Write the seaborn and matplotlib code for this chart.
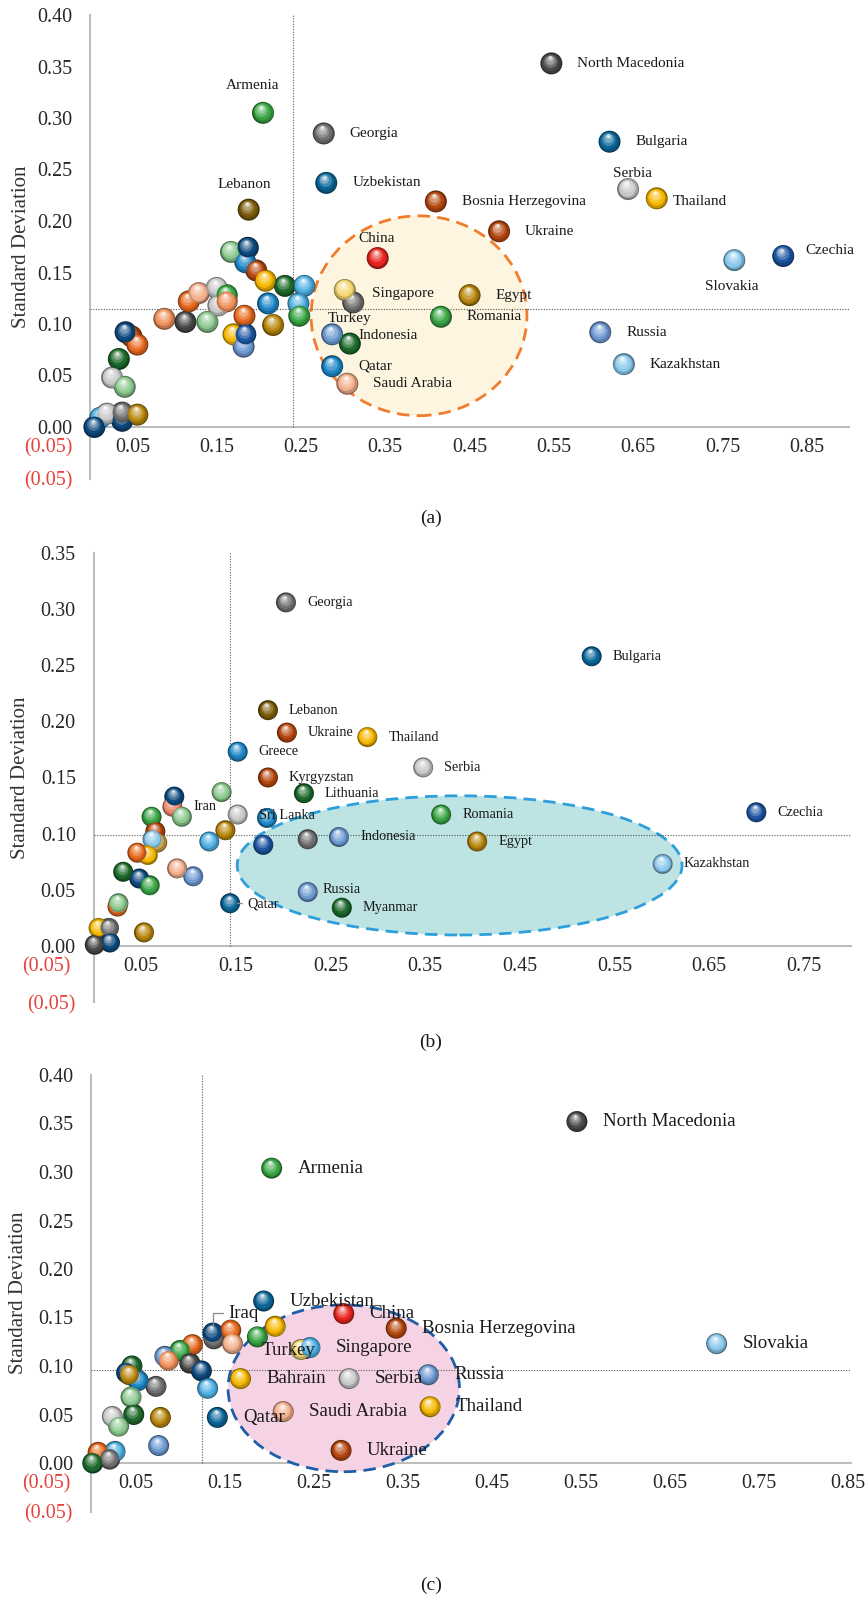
import numpy as np
import pandas as pd
import seaborn as sns
import matplotlib
matplotlib.use("Agg")
import matplotlib.pyplot as plt
from matplotlib.patches import Ellipse
from matplotlib.transforms import ScaledTranslation
from matplotlib.colors import to_rgb

# ---------------------------------------------------------------- data
# (a)  named countries first, unnamed markets after them
a_named = ["Armenia", "Georgia", "Uzbekistan", "Lebanon", "China", "", "Singapore", "Turkey",
           "Indonesia", "Qatar", "Saudi Arabia", "Romania", "Bosnia Herzegovina",
           "North Macedonia", "Bulgaria", "Serbia", "Thailand", "Ukraine", "Slovakia",
           "Czechia", "Egypt", "Russia", "Kazakhstan"]
a_avg = [0.205, 0.277, 0.280, 0.188, 0.341, 0.312, 0.302, 0.287, 0.308, 0.287, 0.305, 0.416, 0.410,
         0.547, 0.616, 0.638, 0.672, 0.485, 0.764, 0.822, 0.450, 0.605, 0.633,
         0.012, 0.020, 0.038, 0.038, 0.056, 0.005, 0.026, 0.041, 0.034, 0.049, 0.056, 0.042,
         0.088, 0.113, 0.117, 0.129, 0.139, 0.152, 0.150, 0.162, 0.162, 0.167, 0.184, 0.187,
         0.197, 0.208, 0.231, 0.254, 0.211, 0.247, 0.248, 0.183, 0.217, 0.170, 0.182, 0.184]
a_sd = [0.305, 0.285, 0.237, 0.211, 0.164, 0.121, 0.133, 0.090, 0.081, 0.059, 0.042, 0.107, 0.219,
        0.353, 0.277, 0.231, 0.222, 0.190, 0.162, 0.166, 0.128, 0.092, 0.061,
        0.009, 0.013, 0.006, 0.014, 0.012, 0.000, 0.048, 0.039, 0.066, 0.088, 0.080, 0.092,
        0.105, 0.102, 0.122, 0.130, 0.102, 0.118, 0.135, 0.128, 0.122, 0.170, 0.160, 0.174,
        0.152, 0.142, 0.137, 0.137, 0.120, 0.120, 0.108, 0.108, 0.099, 0.090, 0.078, 0.090]
a_tone = ["green", "gray", "teal", "olive", "red", "gray", "paleyellow", "steel",
          "darkgreen", "blue", "peach", "green", "rust",
          "darkgray", "teal", "silver", "yellow", "rust", "paleblue", "royal", "gold", "steel",
          "paleblue",
          "lightblue", "silver", "navy", "gray", "gold", "navy", "silver", "lightgreen",
          "darkgreen", "rust", "orange", "navy",
          "apricot", "darkgray", "orange", "peach", "lightgreen", "silver", "silver", "green",
          "apricot", "lightgreen", "blue", "navy",
          "rust", "yellow", "darkgreen", "lightblue", "blue", "lightblue", "green", "orange",
          "gold", "yellow", "steel", "royal"]

# (b)
b_named = ["Georgia", "Bulgaria", "Lebanon", "Ukraine", "Thailand", "Greece", "Serbia",
           "Kyrgyzstan", "Lithuania", "Iran", "", "Sri Lanka", "Romania", "Czechia",
           "Indonesia", "Egypt", "Kazakhstan", "Russia", "Qatar", "Myanmar"]
b_avg = [0.203, 0.526, 0.184, 0.204, 0.289, 0.152, 0.348, 0.184, 0.222, 0.083, 0.085, 0.183,
         0.367, 0.700, 0.259, 0.405, 0.601, 0.226, 0.144, 0.262,
         0.135, 0.093, 0.061, 0.152, 0.139, 0.122, 0.179, 0.226, 0.065, 0.067, 0.062, 0.057,
         0.046, 0.088, 0.105, 0.031, 0.048, 0.059, 0.025, 0.026, 0.053, 0.005, 0.016, 0.017,
         0.001]
b_sd = [0.306, 0.258, 0.210, 0.190, 0.186, 0.173, 0.159, 0.150, 0.136, 0.124, 0.133, 0.114,
        0.117, 0.119, 0.097, 0.093, 0.073, 0.048, 0.038, 0.034,
        0.137, 0.115, 0.115, 0.117, 0.103, 0.093, 0.090, 0.095, 0.102, 0.092, 0.095, 0.081,
        0.083, 0.069, 0.062, 0.066, 0.060, 0.054, 0.035, 0.038, 0.012, 0.016, 0.016, 0.003,
        0.001]
b_tone = ["gray", "teal", "olive", "rust", "yellow", "blue", "silver", "rust", "darkgreen",
          "salmon", "navy", "blue", "green", "royal", "steel", "gold", "paleblue", "steel",
          "teal", "darkgreen",
          "lightgreen", "lightgreen", "green", "silver", "gold", "lightblue", "royal", "gray",
          "rust", "tan", "paleblue", "yellow", "orange", "peach", "steel", "darkgreen", "navy",
          "green", "orange", "lightgreen", "gold", "yellow", "gray", "navy", "darkgray"]

# (c)
c_named = ["North Macedonia", "Armenia", "Uzbekistan", "China", "Bosnia Herzegovina", "",
           "Iraq", "Slovakia", "Turkey", "Singapore", "Bahrain", "Serbia", "Russia",
           "Thailand", "Saudi Arabia", "Qatar", "Ukraine"]
c_avg = [0.546, 0.203, 0.194, 0.284, 0.343, 0.138, 0.137, 0.703, 0.236, 0.246, 0.168, 0.290,
         0.379, 0.381, 0.216, 0.142, 0.281,
         0.157, 0.159, 0.187, 0.207, 0.114, 0.100, 0.083, 0.087, 0.111, 0.124, 0.131, 0.073,
         0.046, 0.040, 0.053, 0.043, 0.045, 0.024, 0.048, 0.031, 0.078, 0.076, 0.027, 0.008,
         0.021, 0.002]
c_sd = [0.352, 0.304, 0.167, 0.154, 0.139, 0.128, 0.134, 0.123, 0.117, 0.119, 0.087, 0.087,
        0.091, 0.058, 0.053, 0.047, 0.013,
        0.137, 0.123, 0.130, 0.141, 0.122, 0.116, 0.110, 0.106, 0.103, 0.095, 0.077, 0.079,
        0.100, 0.093, 0.085, 0.091, 0.068, 0.048, 0.050, 0.038, 0.047, 0.018, 0.012, 0.011,
        0.004, 0.000]
c_tone = ["darkgray", "green", "teal", "red", "rust", "gray", "navy", "paleblue", "paleyellow",
          "lightblue", "yellow", "silver", "steel", "yellow", "peach", "teal", "rust",
          "orange", "peach", "green", "yellow", "orange", "green", "steel", "apricot",
          "darkgray", "navy", "lightblue", "gray", "darkgreen", "navy", "blue", "gold",
          "lightgreen", "silver", "darkgreen", "lightgreen", "gold", "steel", "lightblue",
          "orange", "gray", "darkgreen"]

# reference lines (x threshold, y threshold) per panel
a_cut = (0.24, 0.115)
b_cut = (0.144, 0.099)
c_cut = (0.125, 0.096)

# ---------------------------------------------------------------- styling
TONES = {
    "green": "#3AA645", "darkgreen": "#1D6A2C", "lightgreen": "#8CC98F",
    "gray": "#707070", "darkgray": "#4A4A4A", "silver": "#C8C8C8",
    "navy": "#0E4A7E", "teal": "#0B6699", "blue": "#1C86C6", "royal": "#1D56A3",
    "lightblue": "#4FB0E3", "paleblue": "#8AC8EC", "steel": "#6E9AD2",
    "red": "#E8261E", "orange": "#E8691E", "rust": "#B5460F", "apricot": "#F0915A",
    "peach": "#F3B08C", "salmon": "#E9886A", "gold": "#B8860E", "olive": "#7A5A0A",
    "tan": "#C9A24A", "yellow": "#F6B700", "paleyellow": "#F4D772",
}
RED = "#E8413C"
INK = "#262626"
DPI = 100

sns.set_style("white")
plt.rcParams["font.family"] = ["Liberation Serif", "DejaVu Serif"]


def mix(c, other, t):
    c = np.array(to_rgb(c))
    o = np.array(to_rgb(other))
    return tuple(c * (1 - t) + o * t)


# glossy sphere layers: (diameter fraction, dx fraction, dy fraction, blend target, blend amount)
LAYERS = [
    (0.90, -0.02, 0.03, "black", 0.20),
    (0.76, -0.05, 0.07, "white", 0.00),
    (0.58, -0.07, 0.12, "white", 0.22),
    (0.40, -0.08, 0.17, "white", 0.45),
    (0.22, -0.08, 0.24, "white", 0.70),
    (0.10, -0.07, 0.28, "white", 0.92),
]


def px_to_s(d):
    return (d * 72.0 / DPI) ** 2


def draw_panel(fig, rect, named, avg, sd, tone, cut, xmax, ytop, ell, ell_style,
               diam, label_fs, default_note, notes, leaders, tag, tag_xy, ylab_x):
    ax = fig.add_axes(rect)
    country = list(named) + [""] * (len(avg) - len(named))
    df = pd.DataFrame({"country": country, "avg": avg, "sd": sd, "tone": tone})
    df["pid"] = [f"p{i}" for i in range(len(df))]

    ax.set_xlim(-0.05, xmax)
    ax.set_ylim(-0.05, ytop)

    # highlighted group
    cx, cy, w, h = ell
    fc, ec = ell_style
    ax.add_patch(Ellipse((cx, cy), w, h, facecolor=fc, edgecolor=ec, lw=2.0,
                         linestyle=(0, (4.5, 2.6)), zorder=1))

    # threshold lines
    ax.plot([cut[0], cut[0]], [0, ytop], ls=(0, (1, 1.4)), color="#555555", lw=0.8, zorder=2)
    ax.plot([0, xmax], [cut[1], cut[1]], ls=(0, (1, 1.4)), color="#555555", lw=0.8, zorder=2)

    # sphere bodies
    dark = {p: mix(TONES[t], "black", 0.45) for p, t in zip(df["pid"], df["tone"])}
    sns.scatterplot(data=df, x="avg", y="sd", hue="pid", palette=dark, s=px_to_s(diam),
                    linewidth=0, legend=False, ax=ax, zorder=3)

    # shading on each sphere
    for i, row in df.iterrows():
        base = TONES[row["tone"]]
        for k, (fd, fx, fy, tgt, amt) in enumerate(LAYERS):
            coll = ax.scatter([row["avg"]], [row["sd"]], s=px_to_s(diam * fd),
                              color=[mix(base, tgt, amt)], linewidth=0,
                              zorder=3 + (i + 1) * 1e-3 + k * 1e-5)
            coll.set_offset_transform(ax.transData + ScaledTranslation(
                fx * diam / DPI, fy * diam / DPI, fig.dpi_scale_trans))

    # country names
    for _, row in df.iterrows():
        name = row["country"]
        if not name:
            continue
        dx, dy, ha = notes.get(name, default_note)
        kw = {}
        if name in leaders:
            kw["arrowprops"] = dict(arrowstyle="-", color="#8a8a8a", lw=0.9, shrinkA=1,
                                    shrinkB=diam * 0.36 * 72 / DPI,
                                    connectionstyle=leaders[name])
        ax.annotate(name, (row["avg"], row["sd"]), xytext=(dx, dy),
                    textcoords="offset pixels", ha=ha, va="center", fontsize=label_fs,
                    color="#1a1a1a", zorder=20, **kw)

    # axes crossing at the origin
    sns.despine(ax=ax, top=True, right=True)
    ax.spines["left"].set_position(("data", 0))
    ax.spines["bottom"].set_position(("data", 0))
    ax.spines["left"].set_bounds(-0.05, ytop)
    ax.spines["bottom"].set_bounds(0, xmax)
    for s in ("left", "bottom"):
        ax.spines[s].set_color("#BDBDBD")
        ax.spines[s].set_linewidth(1.5)
        ax.spines[s].set_zorder(0.5)

    xt = np.round(np.arange(-0.05, xmax - 0.001, 0.1), 2)
    yt = np.round(np.arange(-0.05, ytop + 0.001, 0.05), 2)
    fmt = lambda v: f"{v:.2f}" if v >= 0 else f"({abs(v):.2f})"
    ax.set_xticks(xt)
    ax.set_xticklabels([fmt(v) for v in xt])
    ax.set_yticks(yt)
    ax.set_yticklabels([fmt(v) for v in yt])
    ax.tick_params(axis="x", length=0, pad=8, labelsize=14.4, labelcolor=INK)
    ax.tick_params(axis="y", length=0, pad=13, labelsize=14.4, labelcolor=INK)
    ax.get_xticklabels()[0].set_color(RED)
    ax.get_yticklabels()[0].set_color(RED)
    ax.set_xlabel("")
    ax.set_ylabel("Standard Deviation", fontsize=15, color="#333333")
    ax.yaxis.set_label_coords(ylab_x, 0.5)
    ax.grid(False)
    ax.set_facecolor("none")

    fig.text(tag_xy[0] / 868, 1 - tag_xy[1] / 1600, tag, ha="center", va="center",
             fontsize=14, color="#1a1a1a")
    return ax


fig = plt.figure(figsize=(8.68, 16), dpi=DPI)
fig.patch.set_facecolor("white")

a_notes = {
    "Armenia": (-10, 27, "center"), "Lebanon": (-4, 25, "center"), "China": (-1, 20, "center"),
    "Singapore": (27, -3, "left"), "Turkey": (-4, 16, "left"), "Indonesia": (9, 8, "left"),
    "Serbia": (4, 16, "center"), "Thailand": (16, -3, "left"), "Czechia": (22, 6, "left"),
    "Slovakia": (-3, -26, "center"),
}
draw_panel(fig, [48 / 868, 1 - 478.5 / 1600, 801 / 868, 463.5 / 1600],
           a_named, a_avg, a_sd, a_tone, a_cut, 0.90, 0.40,
           (0.390, 0.108, 0.256, 0.194), ("#FDF5DF", "#F07C2C"),
           22, 11, (26, 0, "left"), a_notes, {}, "(a)", (431, 518), -0.021)

b_notes = {"Sri Lanka": (-8, 2, "left"), "Qatar": (17, -1, "left"), "Russia": (15, 2, "left")}
b_leaders = {"Qatar": "arc3,rad=0", "Russia": "arc3,rad=0"}
draw_panel(fig, [46.5 / 868, 1 - 1002 / 1600, 804.5 / 868, 449 / 1600],
           b_named, b_avg, b_sd, b_tone, b_cut, 0.80, 0.35,
           (0.3865, 0.0717, 0.470, 0.124), ("#BDE3E3", "#2D9FDC"),
           20, 10.3, (21, 0, "left"), b_notes, b_leaders, "(b)", (431, 1042), -0.021)

c_notes = {"Iraq": (15, 20, "left"), "Turkey": (-12, -1, "center")}
c_leaders = {"Iraq": "angle,angleA=0,angleB=90,rad=0"}
draw_panel(fig, [46.5 / 868, 1 - 1511.5 / 1600, 804.5 / 868, 436.5 / 1600],
           c_named, c_avg, c_sd, c_tone, c_cut, 0.854, 0.40,
           (0.284, 0.077, 0.260, 0.172), ("#F6D3E4", "#1F5DA6"),
           21, 13.6, (26, 0, "left"), c_notes, c_leaders, "(c)", (431, 1585), -0.023)

fig.savefig("out.png", dpi=DPI, facecolor="white")
